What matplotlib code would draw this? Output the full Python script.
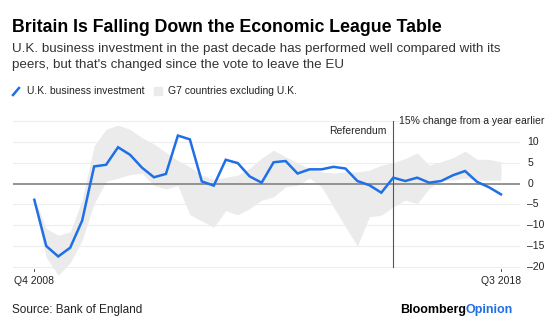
import matplotlib.pyplot as plt
import numpy as np

plt.rcParams['font.family'] = ['Liberation Sans', 'DejaVu Sans']

# Data: quarterly, Q4 2008 .. Q3 2018, % change from a year earlier
uk_invest = [-3.9, -15.0, -17.5, -15.4, -8.9, 4.1, 4.5, 8.7, 6.9, 3.8,
             1.5, 2.3, 11.5, 10.6, 0.5, -0.5, 5.7, 4.9, 1.7, 0.2,
             5.1, 5.4, 2.4, 3.4, 3.4, 4.0, 3.6, 0.6, -0.4, -2.2,
             1.4, 0.6, 1.4, 0.2, 0.6, 2.0, 3.0, 0.4, -0.9, -2.6]
g7_upper = [-3.5, -10.8, -12.4, -11.6, -4.0, 9.0, 13.0, 14.0, 13.0, 11.0,
            9.5, 7.5, 5.5, 4.0, 2.0, 1.0, 1.5, 2.0, 3.7, 6.1,
            8.0, 6.4, 5.0, 3.5, 2.8, 2.5, 2.8, 2.8, 3.2, 4.4,
            5.0, 6.0, 7.3, 4.4, 5.2, 6.2, 7.8, 5.8, 5.8, 5.2]
g7_lower = [-5.0, -17.7, -22.0, -19.0, -13.6, -4.8, 0.5, 1.3, 2.1, 2.5,
            -0.5, -1.3, -0.5, -7.5, -9.0, -10.5, -6.5, -7.5, -6.0, -4.0,
            -3.2, -0.8, -0.4, 1.3, -0.8, -5.6, -10.4, -15.0, -8.0, -7.6,
            -5.6, -4.0, -4.8, -1.2, 0.8, 0.8, 1.3, 0.8, 0.8, 0.8]
x_labels = ['Q4 2008', 'Q3 2018']
y_ticks = [-20, -15, -10, -5, 0, 5, 10]
referendum_idx = 30

C_BLUE = '#1f6fe5'
C_BAND = '#ebebeb'
C_GRID = '#ededed'
C_ZERO = '#8a8a8a'
C_TEXT = '#222222'

fig = plt.figure(figsize=(5.6, 3.24), dpi=100, facecolor='white')

# titles
fig.text(12/560, 1 - 27/324, 'Britain Is Falling Down the Economic League Table',
         fontsize=12.8, fontweight='bold', color='black', va='center')
fig.text(12/560, 1 - 49/324,
         "U.K. business investment in the past decade has performed well compared with its",
         fontsize=9.6, color='#333333', va='center')
fig.text(12/560, 1 - 65/324, "peers, but that's changed since the vote to leave the EU",
         fontsize=9.6, color='#333333', va='center')

# legend
fig.add_artist(plt.Line2D([13/560, 19/560], [1 - 95/324, 1 - 88/324],
                          color=C_BLUE, lw=1.8, transform=fig.transFigure))
fig.text(27/560, 1 - 91/324, 'U.K. business investment', fontsize=7.5, color=C_TEXT, va='center')
fig.add_artist(plt.Rectangle((154/560, 1 - 95/324), 8/560, 8/324, color=C_BAND,
                             transform=fig.transFigure))
fig.text(168/560, 1 - 91/324, 'G7 countries excluding U.K.', fontsize=7.5, color=C_TEXT, va='center')

ax = fig.add_axes([13/560, 0.1377, 507/560, 0.633 - 0.1377])
x = np.arange(len(uk_invest))
ax.set_xlim(-1.78, len(uk_invest) - 1 + 1.59)
ax.set_ylim(-23, 15.5)

for v in y_ticks + [15]:
    if v != 0:
        ax.axhline(v, color=C_GRID, lw=0.8, zorder=0)
ax.fill_between(x, g7_lower, g7_upper, color=C_BAND, lw=0, zorder=1)
ax.axhline(0, color=C_ZERO, lw=1.3, zorder=2)
ax.plot([referendum_idx, referendum_idx], [-20, 15], color='#555555', lw=0.8, zorder=2)
ax.plot(x, uk_invest, color=C_BLUE, lw=1.8, zorder=3, solid_joinstyle='miter')

ax.text(referendum_idx - 0.6, 12.5, 'Referendum', fontsize=7.5, color=C_TEXT, ha='right', va='center')

for s in ax.spines.values():
    s.set_visible(False)
ax.set_yticks([])
ax.set_xticks([])

# y labels on the right
for v in y_ticks:
    lab = str(v).replace('-', '\u2013')
    ax.text(len(uk_invest) - 1 + 2.2, v, lab, fontsize=7.5, color=C_TEXT, ha='left', va='center',
            clip_on=False)
ax.text(len(uk_invest) - 1 + 3.6, 15, '15% change from a year earlier', fontsize=7.5,
        color=C_TEXT, ha='right', va='center', clip_on=False)

# x labels with small ticks
for i, lab in zip([0, len(uk_invest) - 1], x_labels):
    ax.plot([i, i], [-20.4, -21.0], color='#555555', lw=0.7, clip_on=False)
    ax.text(i, -23.3, lab, fontsize=7.5, color=C_TEXT, ha='center', va='center', clip_on=False)

# footer
fig.text(12/560, 1 - 310/324, 'Source: Bank of England', fontsize=8.5, color=C_TEXT, va='center')
t1 = fig.text(400/560, 1 - 310/324, 'Bloomberg', fontsize=9, fontweight='bold', color='black', va='center')
fig.canvas.draw()
bb = t1.get_window_extent()
fig.text(bb.x1 / 560, 1 - 310/324, 'Opinion', fontsize=9, fontweight='bold', color=C_BLUE, va='center')

fig.savefig('out.png', dpi=100, facecolor='white')
